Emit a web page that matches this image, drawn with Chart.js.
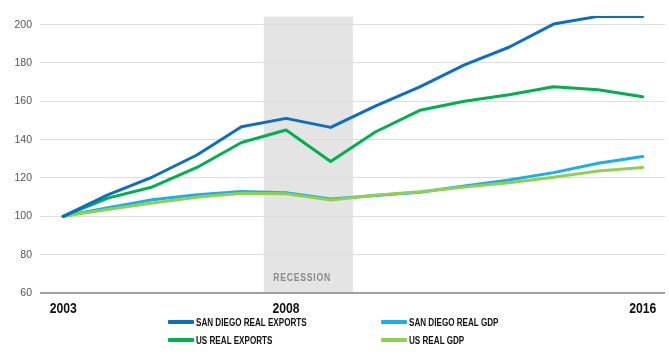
<!DOCTYPE html>
<html>
<head>
<meta charset="utf-8">
<script src="https://cdn.jsdelivr.net/npm/chart.js@4/dist/chart.umd.min.js"></script>
<style>
  html, body { margin: 0; padding: 0; background: #fff; }
  #wrap { position: relative; width: 669px; height: 356px; }
  #c { position: absolute; left: 0; top: 0; }
  .lg { position: absolute; display: flex; align-items: center; height: 14px;
        font: bold 11px "Liberation Sans", Arial, sans-serif;
        color: #111; white-space: nowrap; }
  .lg span.sw { display: inline-block; width: 26px; height: 3.5px; margin-right: 2px; border-radius: 1px; }
  .lg span.tx { display: inline-block; transform: scaleX(0.737); transform-origin: left center; }
</style>
</head>
<body>
<div id="wrap">
  <canvas id="c" width="669" height="356"></canvas>
</div>
<script>
// ---- data ----
const years = [2003,2004,2005,2006,2007,2008,2009,2010,2011,2012,2013,2014,2015,2016];
const sdExports = [100,111.2,120.5,132,146.7,151.1,146.4,157.5,167.5,179,188.2,200.3,204.3,204.2];
const usExports = [100,109.5,115.3,125.5,138.5,145,128.6,144,155.3,160,163.4,167.6,166,162.4];
const sdGdp     = [100,104.5,108.6,111.3,113,112.3,109,110.8,112.6,115.8,118.9,122.8,127.7,131.2];
const usGdp     = [100,103.6,107,110,112,111.8,108.5,111,112.8,115.3,117.5,120.4,123.7,125.5];
const seriesNames = ["SAN DIEGO REAL EXPORTS","SAN DIEGO REAL GDP","US REAL EXPORTS","US REAL GDP"];
const xTickYears = [2003, 2008, 2016];
const yTickValues = [60,80,100,120,140,160,180,200];
const recession = [2007.5, 2009.5];
const recessionLabel = "RECESSION";

const colors = { sdE: "#0a6fbf", usE: "#00b04f", sdG: "#18b0ec", usG: "#8fd14f" };
const SANS = '"Liberation Sans", Arial, sans-serif';

const toXY = arr => arr.map((v, i) => ({ x: years[i], y: v }));

function squeezedText(ctx, text, x, y, sx) {
  ctx.save();
  ctx.translate(x, y);
  ctx.scale(sx, 1);
  ctx.fillText(text, 0, 0);
  ctx.restore();
}

const recessionPlugin = {
  id: 'recession',
  beforeDraw(chart) {
    const { ctx, chartArea, scales: { x, y } } = chart;
    const x0 = x.getPixelForValue(recession[0]);
    const x1 = x.getPixelForValue(recession[1]);
    const top = y.getPixelForValue(204.2);
    ctx.save();
    ctx.fillStyle = '#e4e4e4';
    ctx.fillRect(x0, top, x1 - x0, chartArea.bottom - top);
    ctx.restore();
  },
  afterDatasetsDraw(chart) {
    const { ctx, scales: { x, y } } = chart;
    ctx.save();
    ctx.font = 'bold 11.5px ' + SANS;
    try { ctx.letterSpacing = '1px'; } catch (e) {}
    ctx.fillStyle = '#8a8a8a';
    ctx.textAlign = 'center';
    ctx.textBaseline = 'middle';
    squeezedText(ctx, recessionLabel, x.getPixelForValue(2008.36), y.getPixelForValue(67.7), 0.75);
    ctx.restore();
  },
  afterDraw(chart) {
    const { ctx, chartArea, scales: { x } } = chart;
    ctx.save();
    ctx.font = 'bold 14px ' + SANS;
    ctx.fillStyle = '#111';
    ctx.textAlign = 'center';
    ctx.textBaseline = 'middle';
    x.ticks.forEach(t => {
      squeezedText(ctx, String(t.value), x.getPixelForValue(t.value), chartArea.bottom + 16, 0.87);
    });
    ctx.restore();
  }
};

const ds = (label, data, color, order) => ({
  label, data: toXY(data), borderColor: color, backgroundColor: color,
  borderWidth: 3, pointRadius: 0, tension: 0, fill: false, order,
  borderJoinStyle: 'round', borderCapStyle: 'round'
});

const chart = new Chart(document.getElementById('c'), {
  type: 'line',
  data: {
    datasets: [
      ds(seriesNames[0], sdExports, colors.sdE, 1),
      ds(seriesNames[2], usExports, colors.usE, 2),
      ds(seriesNames[3], usGdp, colors.usG, 3),
      ds(seriesNames[1], sdGdp, colors.sdG, 4)
    ]
  },
  options: {
    responsive: false,
    animation: false,
    layout: { padding: { top: 16, right: 4, left: 0, bottom: 0 } },
    plugins: { legend: { display: false }, tooltip: { enabled: false } },
    scales: {
      x: {
        type: 'linear', min: 2002.48, max: 2016.5,
        grid: { display: false, drawTicks: false },
        border: { display: false },
        afterBuildTicks: s => { s.ticks = xTickYears.map(v => ({ value: v })); },
        afterFit: s => { s.height = 63; },
        ticks: { display: false, autoSkip: false, maxRotation: 0 }
      },
      y: {
        min: 60, max: 204.5,
        afterBuildTicks: s => { s.ticks = yTickValues.map(v => ({ value: v })); },
        afterFit: s => { s.width = 40; },
        border: { display: false },
        grid: {
          drawTicks: false,
          color: c => c.tick && c.tick.value === 60 ? '#a0a0a0' : '#dddddd',
          lineWidth: c => c.tick && c.tick.value === 60 ? 2 : 1
        },
        ticks: { padding: 8, color: '#555', font: { family: SANS, size: 10.5 } }
      }
    }
  },
  plugins: [recessionPlugin]
});

// HTML legend built from the chart's datasets
const legendPos = {
  [seriesNames[0]]: [168, 315], [seriesNames[1]]: [381, 315],
  [seriesNames[2]]: [168, 333], [seriesNames[3]]: [381, 333]
};
const wrap = document.getElementById('wrap');
chart.data.datasets.forEach(d => {
  const el = document.createElement('div');
  el.className = 'lg';
  const p = legendPos[d.label];
  el.style.left = p[0] + 'px';
  el.style.top = p[1] + 'px';
  const sw = document.createElement('span');
  sw.className = 'sw';
  sw.style.background = d.borderColor;
  const tx = document.createElement('span');
  tx.className = 'tx';
  tx.textContent = d.label;
  el.appendChild(sw);
  el.appendChild(tx);
  wrap.appendChild(el);
});
</script>
</body>
</html>
